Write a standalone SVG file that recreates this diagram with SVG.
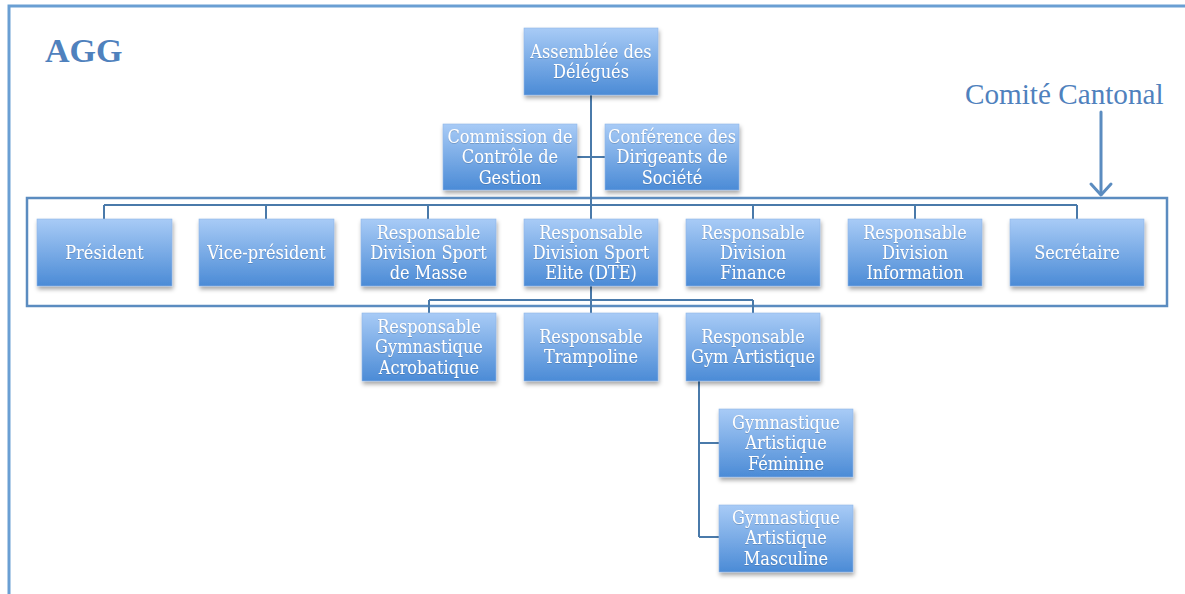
<svg xmlns="http://www.w3.org/2000/svg" width="1185" height="594" viewBox="0 0 1185 594">
  <defs>
    <linearGradient id="boxFill" x1="0" y1="0" x2="0" y2="1">
      <stop offset="0" stop-color="#a8cbf6"/>
      <stop offset="1" stop-color="#4b8bd6"/>
    </linearGradient>
    <filter id="shadow" x="-10%" y="-10%" width="125%" height="135%">
      <feDropShadow dx="1" dy="3" stdDeviation="2" flood-color="#000" flood-opacity="0.35"/>
    </filter>
    <filter id="textShade" x="-5%" y="-20%" width="110%" height="140%">
      <feDropShadow dx="0" dy="0.6" stdDeviation="0.6" flood-color="#2a4a70" flood-opacity="0.45"/>
    </filter>
  </defs>
  <style>
    .box { fill: url(#boxFill); stroke: #8fb6e6; stroke-width: 0.6; filter: url(#shadow); }
    .lbl { font-family: "DejaVu Serif Condensed", "DejaVu Serif", serif; font-stretch: condensed; font-size: 18px; fill: #ffffff; text-anchor: middle; filter: url(#textShade); }
    .conn { fill: none; stroke: #4a7aaa; stroke-width: 2; }
    .frame { fill: none; stroke: #6a9fd3; stroke-width: 3; }
    .group { fill: none; stroke: #5b8cc0; stroke-width: 2.5; }
    .title { font-family: "Liberation Serif", serif; fill: #4f81bd; }
  </style>

  <rect class="frame" x="9" y="6" width="1200" height="620"/>
  <text class="title" x="45" y="62" font-size="34" font-weight="bold">AGG</text>
  <text class="title" x="965" y="104" font-size="29.2" fill="#4a7ebb">Comité Cantonal</text>

  <!-- committee frame and pointer -->
  <rect class="group" x="27" y="198" width="1140" height="108"/>
  <g id="pointer" fill="none" stroke="#5b8cc0" stroke-width="3" stroke-linecap="round" stroke-linejoin="round">
    <path d="M1101 112 V194"/>
    <path d="M1091 184 L1101 195 L1111 184"/>
  </g>

  <g id="connectors">
    <path class="conn" d="M591 95 V300"/>
    <path class="conn" d="M577 157 H605"/>
    <path class="conn" d="M104 205 H1077"/>
    <path class="conn" d="M104 205 V219 M266 205 V219 M428 205 V219 M753 205 V219 M915 205 V219 M1077 205 V219"/>
    <path class="conn" d="M429 300 H753 M429 300 V313 M591 300 V313 M753 300 V313"/>
    <path class="conn" d="M699 381 V537 M699 443 H719 M699 537 H719"/>
  </g>

  <g id="assemblee">
    <rect class="box" x="524" y="28" width="134" height="67"/>
    <text class="lbl" x="591" y="58">Assemblée des</text>
    <text class="lbl" x="591" y="78">Délégués</text>
  </g>
  <g id="commission">
    <rect class="box" x="443" y="124" width="134" height="66"/>
    <text class="lbl" x="510" y="143">Commission de</text>
    <text class="lbl" x="510" y="163">Contrôle de</text>
    <text class="lbl" x="510" y="184">Gestion</text>
  </g>
  <g id="conference">
    <rect class="box" x="605" y="124" width="134" height="66"/>
    <text class="lbl" x="672" y="143">Conférence des</text>
    <text class="lbl" x="672" y="163">Dirigeants de</text>
    <text class="lbl" x="672" y="184">Société</text>
  </g>

  <g id="president">
    <rect class="box" x="37" y="219" width="135" height="67"/>
    <text class="lbl" x="104.5" y="259">Président</text>
  </g>
  <g id="vice-president">
    <rect class="box" x="199" y="219" width="135" height="67"/>
    <text class="lbl" x="266.5" y="259">Vice-président</text>
  </g>
  <g id="sport-masse">
    <rect class="box" x="361" y="219" width="135" height="67"/>
    <text class="lbl" x="428.5" y="239">Responsable</text>
    <text class="lbl" x="428.5" y="259">Division Sport</text>
    <text class="lbl" x="428.5" y="279">de Masse</text>
  </g>
  <g id="sport-elite">
    <rect class="box" x="524" y="219" width="134" height="67"/>
    <text class="lbl" x="591" y="239">Responsable</text>
    <text class="lbl" x="591" y="259">Division Sport</text>
    <text class="lbl" x="591" y="279">Elite (DTE)</text>
  </g>
  <g id="finance">
    <rect class="box" x="686" y="219" width="134" height="67"/>
    <text class="lbl" x="753" y="239">Responsable</text>
    <text class="lbl" x="753" y="259">Division</text>
    <text class="lbl" x="753" y="279">Finance</text>
  </g>
  <g id="information">
    <rect class="box" x="848" y="219" width="134" height="67"/>
    <text class="lbl" x="915" y="239">Responsable</text>
    <text class="lbl" x="915" y="259">Division</text>
    <text class="lbl" x="915" y="279">Information</text>
  </g>
  <g id="secretaire">
    <rect class="box" x="1010" y="219" width="134" height="67"/>
    <text class="lbl" x="1077" y="259">Secrétaire</text>
  </g>

  <g id="acrobatique">
    <rect class="box" x="362" y="313" width="134" height="68"/>
    <text class="lbl" x="429" y="333">Responsable</text>
    <text class="lbl" x="429" y="353">Gymnastique</text>
    <text class="lbl" x="429" y="374">Acrobatique</text>
  </g>
  <g id="trampoline">
    <rect class="box" x="524" y="313" width="134" height="68"/>
    <text class="lbl" x="591" y="343">Responsable</text>
    <text class="lbl" x="591" y="363">Trampoline</text>
  </g>
  <g id="gym-artistique">
    <rect class="box" x="686" y="313" width="134" height="68"/>
    <text class="lbl" x="753" y="343">Responsable</text>
    <text class="lbl" x="753" y="363">Gym Artistique</text>
  </g>
  <g id="feminine">
    <rect class="box" x="719" y="409" width="134" height="68"/>
    <text class="lbl" x="786" y="429">Gymnastique</text>
    <text class="lbl" x="786" y="449">Artistique</text>
    <text class="lbl" x="786" y="470">Féminine</text>
  </g>
  <g id="masculine">
    <rect class="box" x="719" y="505" width="134" height="67"/>
    <text class="lbl" x="786" y="524">Gymnastique</text>
    <text class="lbl" x="786" y="544">Artistique</text>
    <text class="lbl" x="786" y="565">Masculine</text>
  </g>
</svg>
